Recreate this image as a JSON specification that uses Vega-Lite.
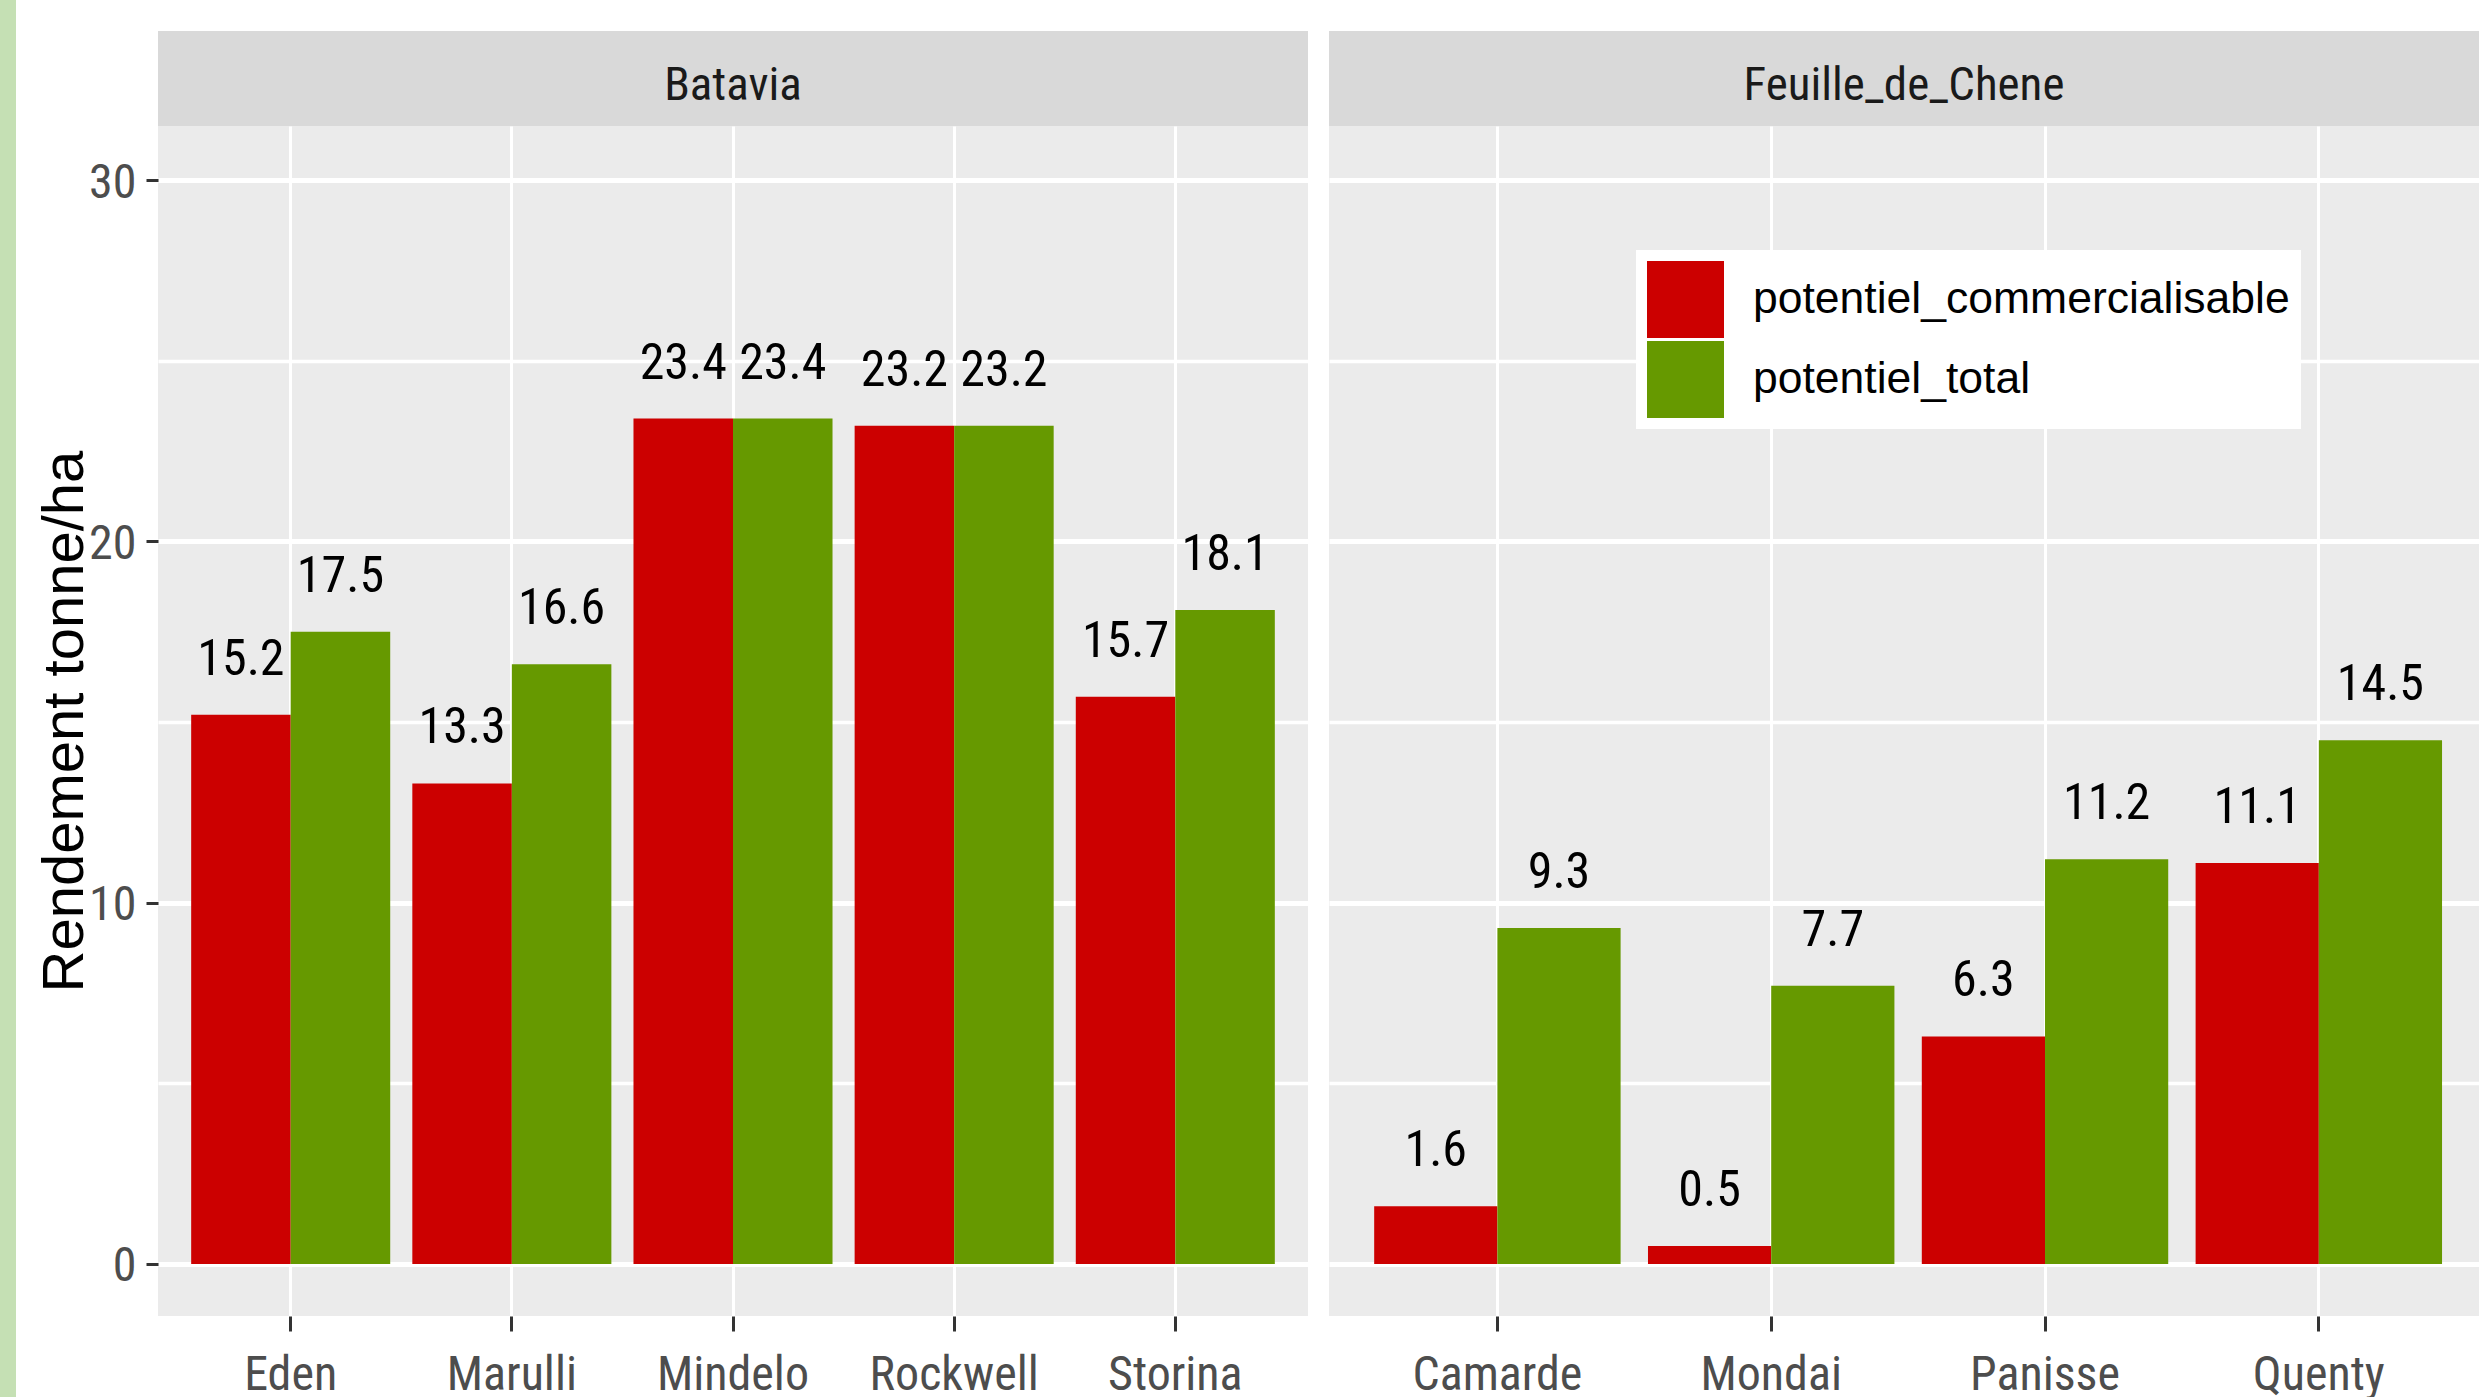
{
  "$schema": "https://vega.github.io/schema/vega-lite/v6.json",
  "background": "white",
  "autosize": {"type": "pad"},
  "padding": 0,
  "datasets": {
    "yields": [
      {"type": "Batavia", "variety": "Eden", "measure": "potentiel_commercialisable", "value": 15.2},
      {"type": "Batavia", "variety": "Eden", "measure": "potentiel_total", "value": 17.5},
      {"type": "Batavia", "variety": "Marulli", "measure": "potentiel_commercialisable", "value": 13.3},
      {"type": "Batavia", "variety": "Marulli", "measure": "potentiel_total", "value": 16.6},
      {"type": "Batavia", "variety": "Mindelo", "measure": "potentiel_commercialisable", "value": 23.4},
      {"type": "Batavia", "variety": "Mindelo", "measure": "potentiel_total", "value": 23.4},
      {"type": "Batavia", "variety": "Rockwell", "measure": "potentiel_commercialisable", "value": 23.2},
      {"type": "Batavia", "variety": "Rockwell", "measure": "potentiel_total", "value": 23.2},
      {"type": "Batavia", "variety": "Storina", "measure": "potentiel_commercialisable", "value": 15.7},
      {"type": "Batavia", "variety": "Storina", "measure": "potentiel_total", "value": 18.1},
      {"type": "Feuille_de_Chene", "variety": "Camarde", "measure": "potentiel_commercialisable", "value": 1.6},
      {"type": "Feuille_de_Chene", "variety": "Camarde", "measure": "potentiel_total", "value": 9.3},
      {"type": "Feuille_de_Chene", "variety": "Mondai", "measure": "potentiel_commercialisable", "value": 0.5},
      {"type": "Feuille_de_Chene", "variety": "Mondai", "measure": "potentiel_total", "value": 7.7},
      {"type": "Feuille_de_Chene", "variety": "Panisse", "measure": "potentiel_commercialisable", "value": 6.3},
      {"type": "Feuille_de_Chene", "variety": "Panisse", "measure": "potentiel_total", "value": 11.2},
      {"type": "Feuille_de_Chene", "variety": "Quenty", "measure": "potentiel_commercialisable", "value": 11.1},
      {"type": "Feuille_de_Chene", "variety": "Quenty", "measure": "potentiel_total", "value": 14.5}
    ],
    "panels": [
      {"type": "Batavia"},
      {"type": "Feuille_de_Chene"}
    ]
  },
  "config": {
    "font": "Roboto Condensed, DejaVu Sans Condensed, sans-serif",
    "view": {"stroke": null},
    "axis": {
      "labelFontSize": 48,
      "labelColor": "#4D4D4D",
      "labelLimit": 500,
      "tickColor": "#333333",
      "domain": false,
      "gridColor": "#FFFFFF"
    }
  },
  "spacing": 142,
  "bounds": "flush",
  "hconcat": [
    {
      "data": {"name": "panels"},
      "transform": [{"filter": "datum.type === 'none'"}],
      "width": 16,
      "height": 1397,
      "view": {"fill": "#C5E0B4", "stroke": null},
      "mark": {"type": "text"},
      "encoding": {"text": {"field": "type"}}
    },
    {
      "resolve": {
        "scale": {"color": "independent", "xOffset": "independent", "x": "independent"},
        "legend": {"color": "independent"}
      },
      "columns": 2,
      "spacing": {"row": 0, "column": 21},
      "bounds": "flush",
      "concat": [
        {
          "data": {"name": "panels"},
          "transform": [{"filter": "datum.type === 'none'"}],
          "width": 1150,
          "height": 31,
          "mark": {"type": "text"},
          "encoding": {"text": {"field": "type"}}
        },
        {
          "data": {"name": "panels"},
          "transform": [{"filter": "datum.type === 'none'"}],
          "width": 1150,
          "height": 31,
          "mark": {"type": "text"},
          "encoding": {"text": {"field": "type"}}
        },
        {
          "data": {"name": "panels"},
          "transform": [{"filter": "datum.type === 'Batavia'"}],
          "width": 1150,
          "height": 95,
          "view": {"fill": "#D9D9D9", "stroke": null},
          "mark": {"type": "text", "fontSize": 47, "color": "#1A1A1A", "baseline": "middle", "dy": 7},
          "encoding": {"text": {"field": "type"}}
        },
        {
          "data": {"name": "panels"},
          "transform": [{"filter": "datum.type === 'Feuille_de_Chene'"}],
          "width": 1150,
          "height": 95,
          "view": {"fill": "#D9D9D9", "stroke": null},
          "mark": {"type": "text", "fontSize": 47, "color": "#1A1A1A", "baseline": "middle", "dy": 7},
          "encoding": {"text": {"field": "type"}}
        },
        {
          "data": {"name": "yields"},
          "transform": [{"filter": "datum.type === 'Batavia'"}],
          "width": 1150,
          "height": 1190,
          "view": {"fill": "#EBEBEB", "stroke": null},
          "encoding": {
            "x": {
              "field": "variety", "type": "nominal",
              "scale": {"paddingInner": 0.1, "paddingOuter": 0.15},
              "axis": {"title": null, "labelAngle": 0, "tickSize": 15, "tickWidth": 3, "labelPadding": 20, "grid": true, "gridWidth": 3, "bandPosition": 0.5}
            },
            "xOffset": {"field": "measure", "type": "nominal", "scale": {"paddingInner": 0, "paddingOuter": 0}}
          },
          "layer": [
            {
              "mark": {"type": "bar"},
              "encoding": {
                "y": {
                  "field": "value", "type": "quantitative",
                  "scale": {"domain": [-1.44, 31.5], "nice": false, "zero": false},
                  "axis": {"values": [0, 10, 20, 30], "title": "Rendement tonne/ha", "titleFont": "Liberation Sans", "titleFontSize": 58, "titleFontWeight": "normal", "titleColor": "#000000", "titleBaseline": "alphabetic", "titleX": -76, "tickSize": 12, "tickWidth": 3, "labelPadding": 10, "labelOffset": 3, "grid": true, "gridWidth": 5}
                },
                "y2": {"datum": 0},
                "color": {
                  "field": "measure", "type": "nominal",
                  "scale": {"domain": ["potentiel_commercialisable", "potentiel_total"], "range": ["#CC0000", "#669900"]},
                  "legend": null
                }
              }
            },
            {
              "mark": {"type": "text", "fontSize": 50, "color": "#000000", "baseline": "alphabetic", "dy": -40},
              "encoding": {
                "y": {
                  "field": "value", "type": "quantitative",
                  "axis": {"orient": "right", "values": [5, 15, 25], "labels": false, "ticks": false, "title": null, "grid": true, "gridWidth": 3.5}
                },
                "text": {"field": "value", "type": "quantitative", "format": ".1f"}
              }
            }
          ],
          "resolve": {"axis": {"y": "independent"}}
        },
        {
          "data": {"name": "yields"},
          "transform": [{"filter": "datum.type === 'Feuille_de_Chene'"}],
          "width": 1150,
          "height": 1190,
          "view": {"fill": "#EBEBEB", "stroke": null},
          "encoding": {
            "x": {
              "field": "variety", "type": "nominal",
              "scale": {"paddingInner": 0.1, "paddingOuter": 0.15, "align": 0.55},
              "axis": {"title": null, "labelAngle": 0, "tickSize": 15, "tickWidth": 3, "labelPadding": 20, "grid": true, "gridWidth": 3, "bandPosition": 0.5}
            },
            "xOffset": {"field": "measure", "type": "nominal", "scale": {"paddingInner": 0, "paddingOuter": 0}}
          },
          "layer": [
            {
              "mark": {"type": "bar"},
              "encoding": {
                "y": {
                  "field": "value", "type": "quantitative",
                  "scale": {"domain": [-1.44, 31.5], "nice": false, "zero": false},
                  "axis": {"values": [0, 10, 20, 30], "title": null, "labels": false, "ticks": false, "grid": true, "gridWidth": 5}
                },
                "y2": {"datum": 0},
                "color": {
                  "field": "measure", "type": "nominal",
                  "scale": {"domain": ["potentiel_commercialisable", "potentiel_total"], "range": ["#CC0000", "#669900"]},
                  "legend": {
                    "title": null,
                    "orient": "none",
                    "legendX": 307,
                    "legendY": 124,
                    "fillColor": "#FFFFFF",
                    "padding": 11,
                    "symbolType": "square",
                    "symbolSize": 5929,
                    "symbolStrokeWidth": 0,
                    "symbolOpacity": 1,
                    "labelFont": "Liberation Sans",
                    "labelFontSize": 44.5,
                    "labelColor": "#000000",
                    "labelOffset": 29,
                    "labelLimit": 800,
                    "rowPadding": 3
                  }
                }
              }
            },
            {
              "mark": {"type": "text", "fontSize": 50, "color": "#000000", "baseline": "alphabetic", "dy": -40},
              "encoding": {
                "y": {
                  "field": "value", "type": "quantitative",
                  "axis": {"orient": "right", "values": [5, 15, 25], "labels": false, "ticks": false, "title": null, "grid": true, "gridWidth": 3.5}
                },
                "text": {"field": "value", "type": "quantitative", "format": ".1f"}
              }
            }
          ],
          "resolve": {"axis": {"y": "independent"}}
        }
      ]
    }
  ]
}
